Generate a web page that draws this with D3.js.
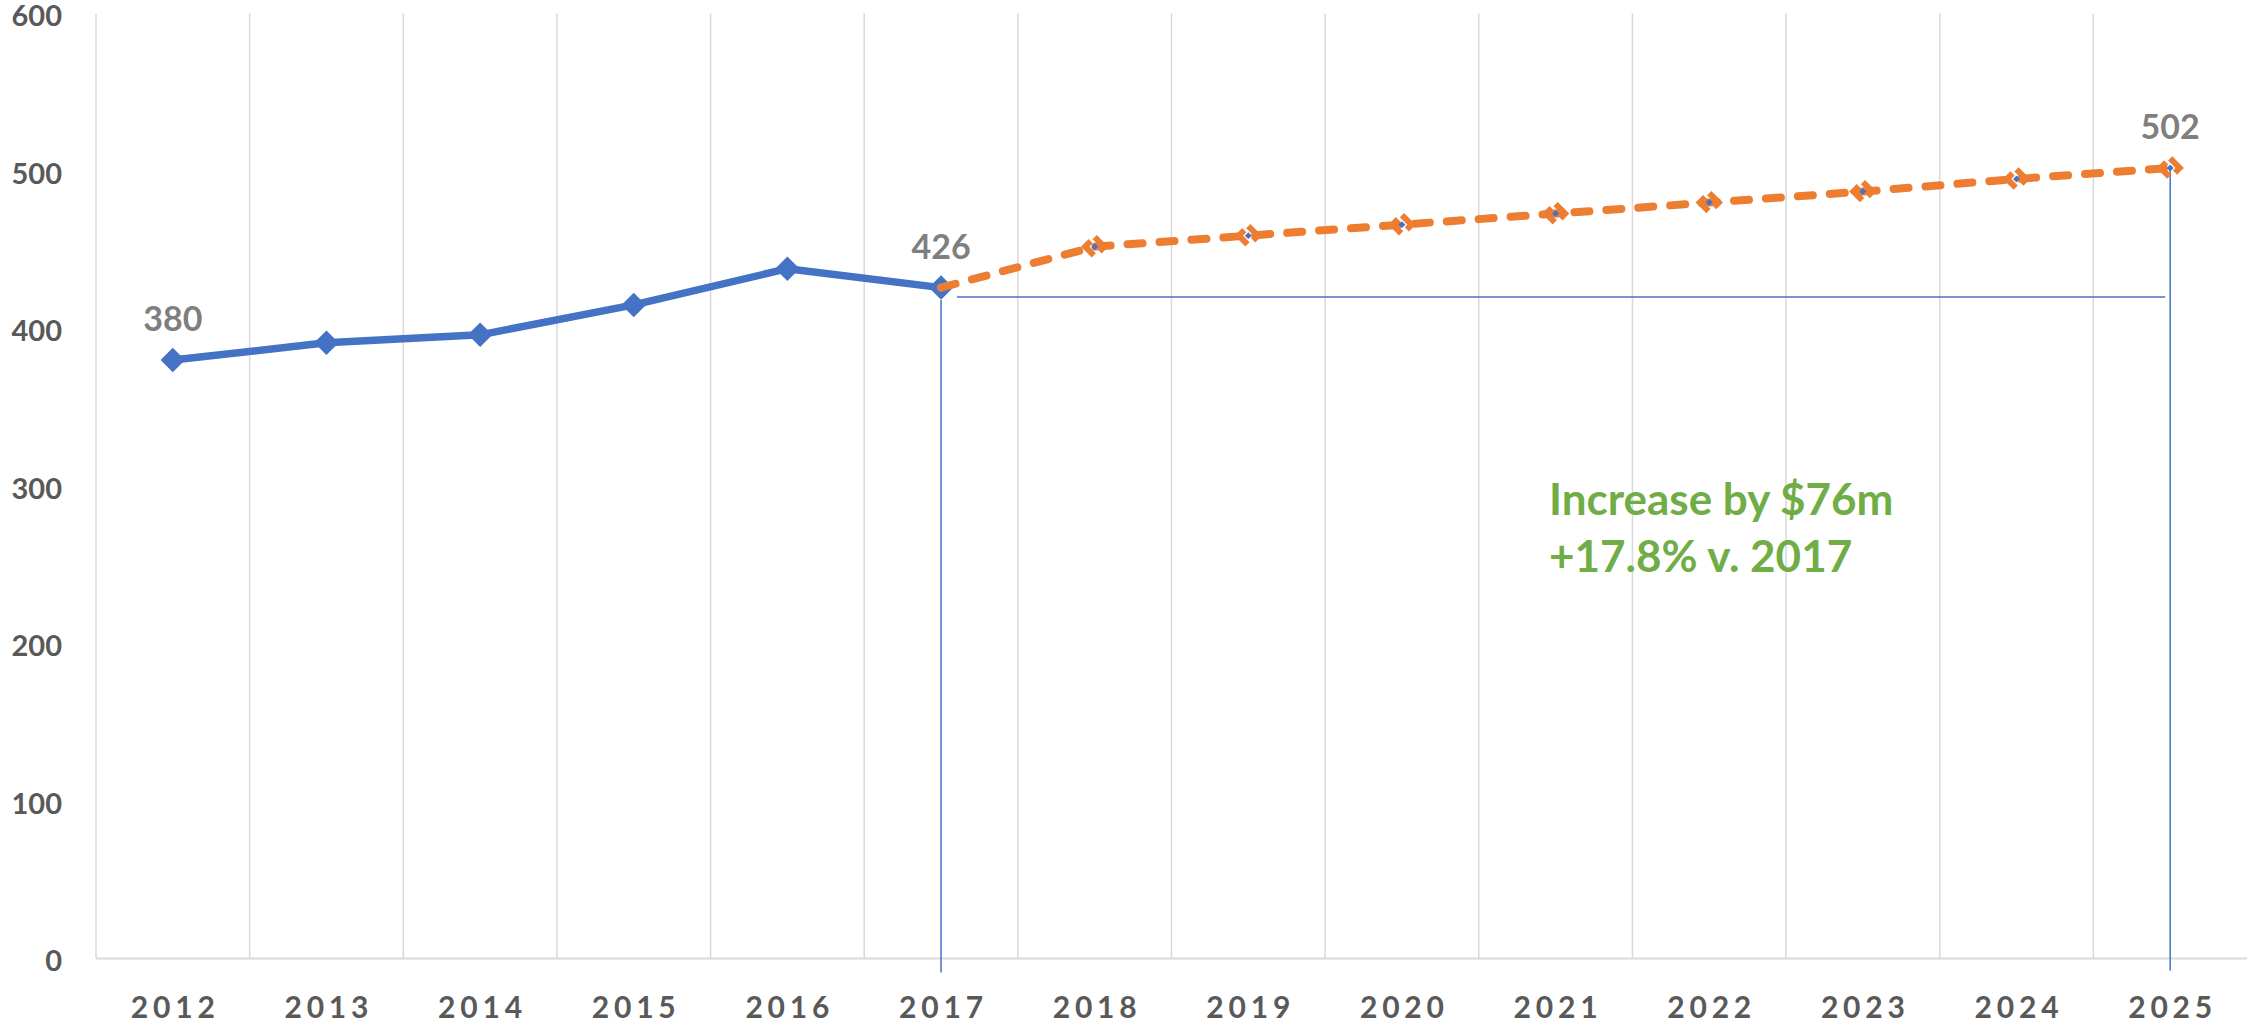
<!DOCTYPE html>
<html>
<head>
<meta charset="utf-8">
<script src="https://cdnjs.cloudflare.com/ajax/libs/d3/7.8.5/d3.min.js"></script>
<style>
  body { margin: 0; background: #fff; }
  svg { display: block; }
  text { font-family: Lato, "Open Sans", sans-serif; font-weight: bold; }
</style>
</head>
<body>
<svg width="2247" height="1030"></svg>
<script>
// data
var years = ["2012","2013","2014","2015","2016","2017","2018","2019","2020","2021","2022","2023","2024","2025"];
var actualYears = ["2012","2013","2014","2015","2016","2017"];
var actualValues = [380, 391, 396, 415, 438, 426];
var forecastYears = ["2017","2018","2019","2020","2021","2022","2023","2024","2025"];
var forecastValues = [426, 452, 459, 466, 473, 480, 487, 495, 502];
var yTicks = [0, 100, 200, 300, 400, 500, 600];
var labelledYears = ["2012", "2017", "2025"];
var noteLines = ["Increase by $76m", "+17.8% v. 2017"];
var baseValue = 420; // level of the drawn reference line

var svg = d3.select("svg"),
  width = +svg.attr("width"),
  height = +svg.attr("height");

var x = d3.scaleBand()
  .domain(years)
  .range([96, 2247])
  .padding(0);

var y = d3.scaleLinear()
  .domain([0, 600])
  .range([958.5, 13.6]);

var cx = function(yr) { return x(yr) + x.bandwidth() / 2; };

// vertical gridlines at category boundaries
svg.append("g")
  .attr("class", "grid")
  .selectAll("line")
  .data(years)
  .enter().append("line")
  .attr("x1", function(d) { return x(d); })
  .attr("x2", function(d) { return x(d); })
  .attr("y1", y(600))
  .attr("y2", y(0))
  .attr("stroke", "#d9d9d9")
  .attr("stroke-width", 1.5);

// x axis baseline
svg.append("line")
  .attr("x1", x.range()[0])
  .attr("x2", x.range()[1])
  .attr("y1", y(0))
  .attr("y2", y(0))
  .attr("stroke", "#d9d9d9")
  .attr("stroke-width", 2);

// y axis labels
var yAxis = svg.append("g")
  .attr("transform", "translate(62,0)")
  .call(d3.axisLeft(y).tickValues(yTicks).tickSize(0).tickPadding(0));
yAxis.select(".domain").remove();
yAxis.selectAll("text")
  .attr("x", 0)
  .attr("dy", "0.42em")
  .style("font-family", "Lato, 'Open Sans', sans-serif")
  .style("font-weight", "bold")
  .style("font-size", "29px")
  .attr("fill", "#595959");

// x axis labels
var xAxis = svg.append("g")
  .attr("transform", "translate(0,1018)")
  .call(d3.axisBottom(x).tickSize(0).tickPadding(0));
xAxis.select(".domain").remove();
xAxis.selectAll("text")
  .attr("y", 0)
  .attr("dy", 0)
  .attr("dx", "2.4px")
  .style("font-family", "Lato, 'Open Sans', sans-serif")
  .style("font-weight", "bold")
  .style("font-size", "30px")
  .style("letter-spacing", "4.8px")
  .attr("fill", "#595959");

// reference lines
var refColor = "#4472C4";
var lastYear = years[years.length - 1];
svg.append("line")
  .attr("x1", cx("2017") + 16).attr("x2", cx(lastYear) - 5)
  .attr("y1", y(baseValue)).attr("y2", y(baseValue))
  .attr("stroke", refColor).attr("stroke-width", 1.5);
svg.append("line")
  .attr("x1", cx("2017")).attr("x2", cx("2017"))
  .attr("y1", y(baseValue) + 3).attr("y2", y(0) + 14)
  .attr("stroke", refColor).attr("stroke-width", 1.5);
svg.append("line")
  .attr("x1", cx(lastYear)).attr("x2", cx(lastYear))
  .attr("y1", y(502)).attr("y2", y(0) + 12)
  .attr("stroke", refColor).attr("stroke-width", 1.5);

var line = d3.line()
  .x(function(d) { return cx(d[0]); })
  .y(function(d) { return y(d[1]); });

var actual = d3.zip(actualYears, actualValues);
var forecast = d3.zip(forecastYears, forecastValues);

// actual series
svg.append("path")
  .datum(actual)
  .attr("d", line)
  .attr("fill", "none")
  .attr("stroke", "#4472C4")
  .attr("stroke-width", 7.5)
  .attr("stroke-linejoin", "round");

var diamond = d3.symbol().type(d3.symbolSquare).size(300);

svg.append("g")
  .selectAll("path")
  .data(actual)
  .enter().append("path")
  .attr("d", diamond)
  .attr("transform", function(d) { return "translate(" + cx(d[0]) + "," + y(d[1]) + ") rotate(45)"; })
  .attr("fill", "#4472C4");

// forecast series
svg.append("path")
  .datum(forecast)
  .attr("d", line)
  .attr("fill", "none")
  .attr("stroke", "#ED7D31")
  .attr("stroke-width", 8)
  .attr("stroke-linecap", "round")
  .attr("stroke-dasharray", "15,17");

var fMarks = svg.append("g")
  .selectAll("g")
  .data(forecast.slice(1))
  .enter().append("g")
  .attr("transform", function(d) { return "translate(" + cx(d[0]) + "," + y(d[1]) + ")"; });
fMarks.append("path")
  .attr("d", d3.symbol().type(d3.symbolSquare).size(180))
  .attr("transform", "rotate(45)")
  .attr("fill", "none")
  .attr("stroke", "#ED7D31")
  .attr("stroke-width", 6)
  .attr("stroke-dasharray", "20,8");
fMarks.append("path")
  .attr("d", d3.symbol().type(d3.symbolSquare).size(24))
  .attr("transform", "rotate(45)")
  .attr("fill", "#4472C4");

// data labels
var allPoints = actual.concat(forecast.slice(1));
svg.append("g")
  .selectAll("text")
  .data(allPoints.filter(function(d) { return labelledYears.indexOf(d[0]) >= 0; }))
  .enter().append("text")
  .attr("x", function(d) { return cx(d[0]); })
  .attr("y", function(d) { return y(d[1]) - 29; })
  .attr("text-anchor", "middle")
  .style("font-size", "34px")
  .attr("fill", "#7f7f7f")
  .text(function(d) { return d[1]; });

// note
svg.append("g")
  .selectAll("text")
  .data(noteLines)
  .enter().append("text")
  .attr("x", 1549)
  .attr("y", function(d, i) { return 515 + i * 57; })
  .style("font-size", "44px")
  .attr("fill", "#70AD47")
  .text(function(d) { return d; });
</script>
</body>
</html>
